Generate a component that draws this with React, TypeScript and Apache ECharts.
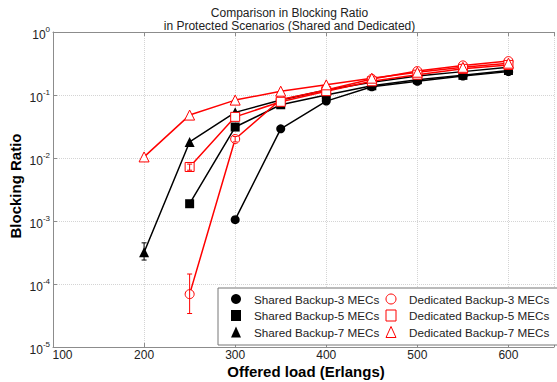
import React, { useEffect, useRef } from "react";
import * as echarts from "echarts";

const loads = [200, 250, 300, 350, 400, 450, 500, 550, 600];

const shared3 = [null, null, 1.05e-3, 0.029, 0.08, 0.135, 0.165, 0.2, 0.235];
const shared5 = [null, 1.88e-3, 0.031, 0.07, 0.1, 0.14, 0.175, 0.205, 0.245];
const shared7 = [3.2e-4, 0.018, 0.053, 0.083, 0.12, 0.16, 0.2, 0.235, 0.275];
const dedicated3 = [null, 6.9e-5, 0.02, 0.085, 0.12, 0.18, 0.24, 0.295, 0.345];
const dedicated5 = [null, 7.2e-3, 0.045, 0.078, 0.115, 0.165, 0.21, 0.26, 0.3];
const dedicated7 = [0.0104, 0.048, 0.083, 0.115, 0.145, 0.185, 0.23, 0.275, 0.32];

// error bars: [load, low, high]
const shared7Err = [[200, 2.4e-4, 4.5e-4]];
const dedicated3Err = [[250, 3.4e-5, 1.44e-4], [300, 1.8e-2, 2.2e-2]];
const dedicated5Err = [[250, 6.4e-3, 8.0e-3]];

const names = {
  s3: "Shared Backup-3 MECs",
  s5: "Shared Backup-5 MECs",
  s7: "Shared Backup-7 MECs",
  d3: "Dedicated Backup-3 MECs",
  d5: "Dedicated Backup-5 MECs",
  d7: "Dedicated Backup-7 MECs",
};

const FONT = "'Liberation Sans', Arial, sans-serif";
const BLACK = "#000000";
const RED = "#ff0000";

function toPairs(vals: (number | null)[]) {
  const out: [number, number][] = [];
  vals.forEach((v, i) => {
    if (v !== null) out.push([loads[i], v]);
  });
  return out;
}

function lineSeries(name: string, vals: (number | null)[], color: string, symbol: string, size: number, hollow: boolean) {
  return {
    type: "line",
    name,
    data: toPairs(vals),
    symbol,
    symbolSize: size,
    showAllSymbol: true,
    lineStyle: { color, width: 1.5 },
    itemStyle: hollow
      ? { color: "#ffffff", borderColor: color, borderWidth: 1 }
      : { color, borderColor: color, borderWidth: 0 },
    z: hollow ? 4 : 3,
  };
}

function errSeries(name: string, data: number[][], color: string) {
  return {
    type: "custom",
    name,
    data,
    encode: { x: 0, y: [1, 2] },
    z: 5,
    renderItem: (params: any, api: any) => {
      const x = api.value(0);
      const p1 = api.coord([x, api.value(1)]);
      const p2 = api.coord([x, api.value(2)]);
      const w = 2.5;
      const style = { stroke: color, lineWidth: 1 };
      return {
        type: "group",
        children: [
          { type: "line", shape: { x1: p1[0], y1: p1[1], x2: p2[0], y2: p2[1] }, style },
          { type: "line", shape: { x1: p1[0] - w, y1: p1[1], x2: p1[0] + w, y2: p1[1] }, style },
          { type: "line", shape: { x1: p2[0] - w, y1: p2[1], x2: p2[0] + w, y2: p2[1] }, style },
        ],
      };
    },
  };
}

export default function App() {
  const ref = useRef<HTMLDivElement>(null);
  useEffect(() => {
    if (!ref.current) return;
    const chart = echarts.init(ref.current, undefined, { renderer: "svg" });
    const axisColor = "#8c8c8c";
    chart.setOption({
      animation: false,
      backgroundColor: "#ffffff",
      grid: { left: 53, right: -3, top: 32, bottom: 35, show: false },
      graphic: [
        {
          type: "text",
          x: 289.5,
          y: 7,
          style: {
            text: "Comparison in Blocking Ratio\nin Protected Scenarios (Shared and Dedicated)",
            textAlign: "center",
            font: `12px ${FONT}`,
            lineHeight: 12.5,
            fill: "#222222",
          },
        },
        {
          type: "text",
          x: 15,
          y: 186,
          rotation: Math.PI / 2,
          style: {
            text: "Blocking Ratio",
            textAlign: "center",
            textVerticalAlign: "middle",
            font: `bold 15px ${FONT}`,
            fill: "#000000",
          },
        },
        {
          type: "text",
          x: 306,
          y: 371,
          style: {
            text: "Offered load (Erlangs)",
            textAlign: "center",
            textVerticalAlign: "middle",
            font: `bold 15px ${FONT}`,
            fill: "#000000",
          },
        },
      ],
      legend: {
        data: [
          { name: names.s3, icon: "circle", itemStyle: { color: BLACK } },
          { name: names.d3, icon: "circle", itemStyle: { color: "#ffffff", borderColor: RED, borderWidth: 1 } },
          { name: names.s5, icon: "rect", itemStyle: { color: BLACK } },
          { name: names.d5, icon: "rect", itemStyle: { color: "#ffffff", borderColor: RED, borderWidth: 1 } },
          { name: names.s7, icon: "triangle", itemStyle: { color: BLACK } },
          { name: names.d7, icon: "triangle", itemStyle: { color: "#ffffff", borderColor: RED, borderWidth: 1 } },
        ],
        left: 218,
        top: 288,
        width: 400,
        orient: "horizontal",
        itemWidth: 10,
        itemHeight: 11,
        itemGap: 4.5,
        padding: [5, 15, 7, 13],
        borderColor: "#777777",
        borderWidth: 1,
        backgroundColor: "#ffffff",
        selectedMode: false,
        textStyle: {
          fontFamily: FONT,
          fontSize: 11.7,
          color: "#222222",
          width: 127,
          lineHeight: 12,
          padding: [0, 0, 0, 8],
        },
      },
      xAxis: [
        {
          type: "value",
          min: 100,
          max: 650,
          interval: 100,
          axisLine: { show: true, lineStyle: { color: axisColor, width: 1 } },
          axisTick: { show: true, inside: true, length: 4, lineStyle: { color: axisColor } },
          splitLine: { show: true, lineStyle: { color: "#d4d4d4", type: "dotted", width: 1 } },
          axisLabel: {
            margin: 2,
            fontFamily: FONT,
            fontSize: 12,
            color: "#222222",
            formatter: (v: number) => (v % 100 === 0 ? (v === 100 ? "{f|100}" : String(v)) : ""),
            rich: { f: { fontFamily: FONT, fontSize: 12, color: "#222222", padding: [0, 0, 0, 19] } },
          },
        },
        {
          type: "value",
          position: "top",
          min: 100,
          max: 650,
          interval: 100,
          axisLine: { show: true, lineStyle: { color: axisColor, width: 1 } },
          axisTick: { show: true, inside: true, length: 4, lineStyle: { color: axisColor } },
          splitLine: { show: false },
          axisLabel: { show: false },
        },
      ],
      yAxis: [
        {
          type: "log",
          logBase: 10,
          min: 1e-5,
          max: 1,
          axisLine: { show: true, lineStyle: { color: axisColor, width: 1 } },
          axisTick: { show: true, inside: true, length: 4, lineStyle: { color: axisColor } },
          minorTick: { show: false },
          splitLine: { show: true, lineStyle: { color: "#d4d4d4", type: "dotted", width: 1 } },
          axisLabel: {
            margin: 3,
            formatter: (v: number) => {
              const e = Math.round(Math.log10(v));
              return "{b|10}{s|" + (e === 0 ? "0" : "-" + Math.abs(e)) + "}";
            },
            rich: {
              b: { fontFamily: FONT, fontSize: 12, color: "#222222", padding: [6, 0, 0, 0] },
              s: { fontFamily: FONT, fontSize: 8, color: "#222222", padding: [0, 0, 6, 0] },
            },
          },
        },
      ],
      series: [
        lineSeries(names.s3, shared3, BLACK, "circle", 9, false),
        lineSeries(names.s5, shared5, BLACK, "rect", 9, false),
        lineSeries(names.s7, shared7, BLACK, "triangle", 10, false),
        lineSeries(names.d3, dedicated3, RED, "circle", 9, true),
        lineSeries(names.d5, dedicated5, RED, "rect", 9, true),
        lineSeries(names.d7, dedicated7, RED, "triangle", 10, true),
        errSeries("err-s7", shared7Err, BLACK),
        errSeries("err-d3", dedicated3Err, RED),
        errSeries("err-d5", dedicated5Err, RED),
      ],
    });
    return () => chart.dispose();
  }, []);
  return (
    <div
      ref={ref}
      style={{ position: "fixed", left: 0, top: 0, width: 557, height: 382, background: "#fff" }}
    />
  );
}
